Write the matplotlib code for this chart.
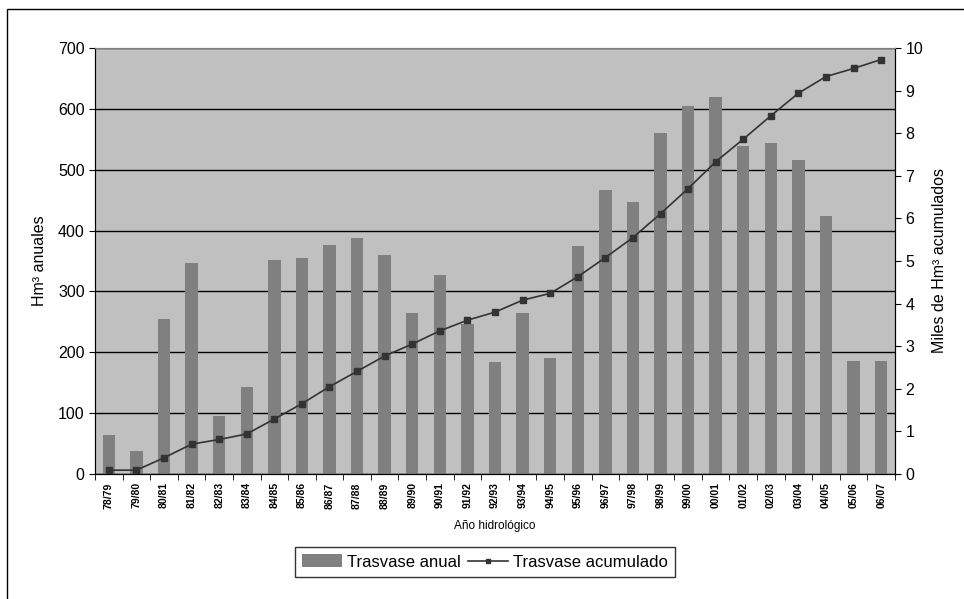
import matplotlib
matplotlib.use('Agg')
import matplotlib.pyplot as plt
import numpy as np
from matplotlib.patches import Rectangle

plt.rcParams['font.family'] = ['Liberation Sans', 'DejaVu Sans']

years = ['78/79', '79/80', '80/81', '81/82', '82/83', '83/84', '84/85', '85/86',
         '86/87', '87/88', '88/89', '89/90', '90/91', '91/92', '92/93', '93/94',
         '94/95', '95/96', '96/97', '97/98', '98/99', '99/00', '00/01', '01/02',
         '02/03', '03/04', '04/05', '05/06', '06/07']
anual = [64, 38, 255, 347, 95, 143, 352, 355, 376, 388, 360, 265, 327, 246, 184,
         265, 191, 375, 467, 447, 560, 605, 619, 539, 544, 516, 424, 186, 186]
acumulado = [0.09, 0.09, 0.38, 0.70, 0.81, 0.94, 1.29, 1.65, 2.05, 2.41, 2.77, 3.05,
             3.36, 3.61, 3.80, 4.08, 4.24, 4.63, 5.08, 5.55, 6.11, 6.70, 7.33, 7.86,
             8.41, 8.94, 9.33, 9.52, 9.73]

fig = plt.figure(figsize=(9.64, 5.99), dpi=100)
ax = fig.add_axes([95/964, 1 - 474/599, 800/964, 426/599])
ax.set_facecolor('#c0c0c0')

x = np.arange(len(years))
bars = ax.bar(x, anual, width=0.45, color='#808080', zorder=2, label='Trasvase anual')
ax.set_xlim(-0.5, len(years) - 0.5)
ax.set_ylim(0, 700)
ax.set_yticks(np.arange(0, 701, 100))
ax.yaxis.grid(True, color='black', linewidth=1)
ax.set_axisbelow(True)

ax.set_xticks(x)
ax.set_xticklabels(years, rotation=90, fontsize=7.5, fontweight='bold')
ax.set_xticks(np.arange(-0.5, len(years)), minor=True)
ax.tick_params(axis='x', which='major', length=0, pad=6)
ax.tick_params(axis='x', which='minor', length=4, direction='out', color='black')
ax.tick_params(axis='y', labelsize=11.5, length=4, direction='out')
ax.spines['top'].set_color('#808080')
ax.spines['left'].set_color('#404040')
ax.spines['bottom'].set_color('black')
ax.spines['right'].set_color('black')
ax.set_ylabel('Hm³ anuales', fontsize=11.5, labelpad=8)
ax.set_xlabel('Año hidrológico', fontsize=8.5, labelpad=8)

ax2 = ax.twinx()
line, = ax2.plot(x, acumulado, color='#333333', linewidth=1.2, marker='s',
                 markersize=4, zorder=3, label='Trasvase acumulado')
ax2.set_ylim(0, 10)
ax2.set_yticks(np.arange(0, 11, 1))
ax2.tick_params(axis='y', labelsize=11.5, length=4, direction='out')
ax2.spines['right'].set_color('black')
ax2.spines['top'].set_color('#808080')
ax2.set_ylabel('Miles de Hm³ acumulados', fontsize=11.5, labelpad=6)

leg = fig.legend([bars, line], ['Trasvase anual', 'Trasvase acumulado'],
                 loc='center', bbox_to_anchor=(485/964, 1 - 562/599), ncol=2,
                 fontsize=12, frameon=True, fancybox=False, edgecolor='black',
                 handlelength=2.4, handleheight=0.8, handletextpad=0.3,
                 columnspacing=0.4, borderpad=0.45, markerscale=0.7)
leg.get_frame().set_linewidth(1)

fig.patches.append(Rectangle((7/964, -0.1), 1.1, 1 - 9/599 + 0.1,
                             transform=fig.transFigure, fill=False,
                             edgecolor='black', linewidth=1))

fig.savefig('out.png', dpi=100)
